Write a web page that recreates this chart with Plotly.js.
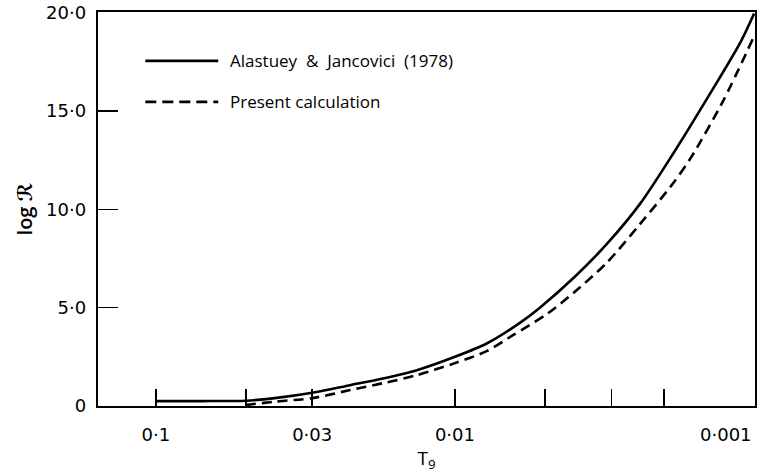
<!DOCTYPE html>
<html>
<head>
<meta charset="utf-8">
<script src="https://cdn.plot.ly/plotly-3.0.1.min.js"></script>
<style>html,body{margin:0;padding:0;background:#fff;}#chart{width:758px;height:475px;}</style>
</head>
<body>
<div id="chart"></div>
<script>
// Alastuey & Jancovici (1978) – solid curve
const t9Alastuey = [0.1, 0.07, 0.05, 0.04, 0.03, 0.0224, 0.0174, 0.0134, 0.01, 0.0078, 0.0061, 0.0052, 0.004, 0.0031, 0.0024, 0.00187, 0.00144, 0.00111, 0.001];
const logRAlastuey = [0.25, 0.25, 0.27, 0.4, 0.67, 1.06, 1.4, 1.82, 2.5, 3.19, 4.2, 5.0, 6.53, 8.25, 10.3, 12.8, 15.6, 18.5, 19.95];
// Present calculation – dashed curve
const t9Present = [0.05, 0.04, 0.03, 0.0224, 0.0174, 0.0134, 0.01, 0.0078, 0.0064, 0.0049, 0.004, 0.0031, 0.0024, 0.00187, 0.00163, 0.00127, 0.001];
const logRPresent = [0.05, 0.22, 0.4, 0.81, 1.16, 1.57, 2.18, 2.8, 3.6, 4.7, 5.77, 7.3, 9.27, 11.3, 12.6, 15.5, 18.8];

const seriesNames = ['Alastuey\u00a0 &\u00a0 Jancovici\u00a0 (1978)', 'Present calculation'];
const xTickVals = [0.1, 0.03, 0.01];
const xTickText = ['0\u00b71', '0\u00b703', '0\u00b701'];
const xMinorTickVals = [0.05, 0.005, 0.003, 0.002];
const xEndTickVal = 0.001;
const xEndTickText = '0\u00b7001';
const yTickVals = [0, 5, 10, 15, 20];
const yTickText = ['0', '5\u00b70', '10\u00b70', '15\u00b70', '20\u00b70'];

const FONT = 'Open Sans, DejaVu Sans, sans-serif';
const TICKFONT = 'DejaVu Sans, sans-serif';

const traces = [
  {x: t9Alastuey, y: logRAlastuey, mode: 'lines', name: seriesNames[0],
   line: {color: '#000', width: 2.6, shape: 'spline', smoothing: 0.8}, showlegend: false},
  {x: t9Present, y: logRPresent, mode: 'lines', name: seriesNames[1],
   line: {color: '#000', width: 2.6, dash: '10px,6px', shape: 'spline', smoothing: 0.8}, showlegend: false}
];

const layout = {
  width: 758, height: 475,
  margin: {l: 98, r: 3, t: 12, b: 69},
  paper_bgcolor: '#fff', plot_bgcolor: '#fff',
  font: {family: FONT, color: '#000', size: 16},
  xaxis: {
    type: 'log', range: [Math.log10(0.156), -3.003],
    tickmode: 'array', tickvals: xTickVals, ticktext: xTickText,
    ticks: 'inside', ticklen: 17, tickwidth: 1.6, tickcolor: '#000',
    minor: {tickmode: 'array', tickvals: xMinorTickVals, ticks: 'inside', ticklen: 17,
            tickwidth: 1.6, tickcolor: '#000', showgrid: false},
    showline: true, linewidth: 2.2, linecolor: '#000', mirror: true,
    showgrid: false, zeroline: false, ticklabelstandoff: 11,
    tickfont: {size: 18, family: TICKFONT},
    title: {text: 'T<sub>9</sub>', font: {size: 19, family: FONT}, standoff: 5}
  },
  yaxis: {
    range: [0, 20.03],
    tickmode: 'array', tickvals: yTickVals, ticktext: yTickText,
    ticks: 'inside', ticklen: 20, tickwidth: 1.6, tickcolor: '#000',
    showline: true, linewidth: 2.2, linecolor: '#000', mirror: true,
    showgrid: false, zeroline: false, ticklabelstandoff: 6,
    ticklabeloverflow: 'allow',
    tickfont: {size: 18, family: TICKFONT},
    title: {text: 'log \u211B', font: {size: 20, family: FONT, weight: 600}, standoff: 8}
  },
  shapes: [
    {type: 'line', xref: 'paper', yref: 'paper', x0: 0.072, x1: 0.183, y0: 0.876, y1: 0.876,
     line: {color: '#000', width: 2.6}},
    {type: 'line', xref: 'paper', yref: 'paper', x0: 0.072, x1: 0.183, y0: 0.772, y1: 0.772,
     line: {color: '#000', width: 2.6, dash: '11px,6px'}}
  ],
  annotations: [
    {xref: 'paper', yref: 'paper', x: 0.198, y: 0.876, xanchor: 'left', yanchor: 'middle',
     text: seriesNames[0], showarrow: false, font: {size: 17, family: FONT}},
    {xref: 'paper', yref: 'paper', x: 0.198, y: 0.772, xanchor: 'left', yanchor: 'middle',
     text: seriesNames[1], showarrow: false, font: {size: 17, family: FONT}},
    {xref: 'x', yref: 'paper', x: Math.log10(xEndTickVal), y: -0.072, xanchor: 'right', yanchor: 'middle',
     text: xEndTickText, showarrow: false, font: {size: 18, family: TICKFONT}}
  ]
};

Plotly.newPlot('chart', traces, layout, {staticPlot: true, displayModeBar: false});
</script>
</body>
</html>
